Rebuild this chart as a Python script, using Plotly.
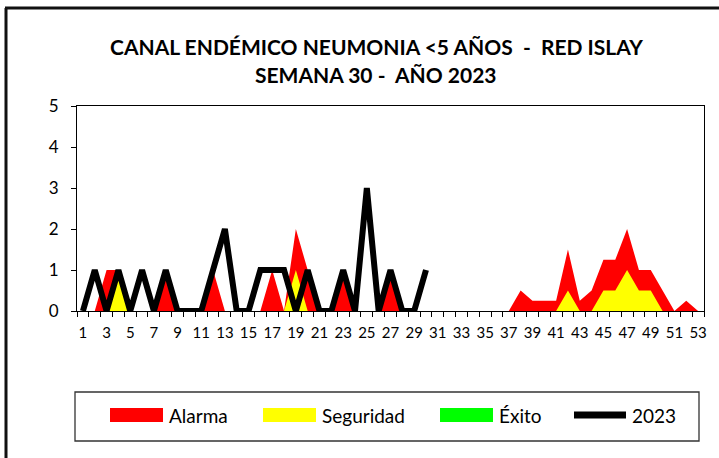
import plotly.graph_objects as go

# semanas epidemiologicas
weeks = list(range(1, 54))
tick_weeks = list(range(1, 54, 2))

alarma = [0, 0, 1, 1, 0, 0, 0, 1, 0, 0,
          0, 1, 0, 0, 0, 0, 1, 0, 2, 1,
          0, 0, 1, 0, 0, 0, 1, 0, 0, 0,
          0, 0, 0, 0, 0, 0, 0, 0.5, 0.25, 0.25,
          0.25, 1.5, 0.25, 0.5, 1.25, 1.25, 2, 1, 1, 0.5,
          0, 0.25, 0]
seguridad = [0, 0, 0, 1, 0, 0, 0, 0, 0, 0,
             0, 0, 0, 0, 0, 0, 0, 0, 1, 0,
             0, 0, 0, 0, 0, 0, 0, 0, 0, 0,
             0, 0, 0, 0, 0, 0, 0, 0, 0, 0,
             0, 0.5, 0, 0, 0.5, 0.5, 1, 0.5, 0.5, 0,
             0, 0, 0]
exito = [0] * 53
casos_2023 = [0, 1, 0, 1, 0, 1, 0, 1, 0, 0,
              0, 1, 2, 0, 0, 1, 1, 1, 0, 1,
              0, 0, 1, 0, 3, 0, 1, 0, 0, 1]

FONT = "Lato"
W, H = 719, 458
L, R, T, B = 77, 15, 106, 147
PW, PH = W - L - R, H - T - B


def px_x(x):
    return (x - L) / PW


def px_y(y):
    return (H - B - y) / PH


series = [("Alarma", alarma, "#FF0000"),
          ("Seguridad", seguridad, "#FFFF00"),
          ("Éxito", exito, "#00FF00")]

fig = go.Figure()

for name, vals, color in series:
    fig.add_trace(go.Scatter(
        x=weeks, y=vals, name=name, mode="lines",
        line=dict(width=0, color=color),
        fill="tozeroy", fillcolor=color, showlegend=False,
    ))

fig.add_trace(go.Scatter(
    x=weeks[:len(casos_2023)], y=casos_2023, name="2023", mode="lines",
    line=dict(color="black", width=6), showlegend=False,
))

# marco exterior
shapes = [
    dict(type="line", xref="paper", yref="paper",
         x0=px_x(6), x1=px_x(6), y0=px_y(470), y1=px_y(8),
         line=dict(color="#111111", width=3)),
    dict(type="line", xref="paper", yref="paper",
         x0=px_x(5), x1=px_x(730), y0=px_y(8), y1=px_y(8),
         line=dict(color="#111111", width=3)),
    # caja de leyenda
    dict(type="rect", xref="paper", yref="paper",
         x0=px_x(75), x1=px_x(699), y0=px_y(441), y1=px_y(392),
         line=dict(color="#333333", width=1.3), fillcolor="white"),
]
annotations = [
    dict(text="<b>CANAL ENDÉMICO NEUMONIA &lt;5 AÑOS  -  RED ISLAY</b>",
         x=px_x(376), y=px_y(47)),
    dict(text="<b>SEMANA 30 -  AÑO 2023</b>", x=px_x(376), y=px_y(74)),
]
for a in annotations:
    a.update(xref="paper", yref="paper", xanchor="center", yanchor="middle",
             showarrow=False, font=dict(family=FONT, size=21, color="black"))

# leyenda manual
legend_items = [("Alarma", "#FF0000", 110, 163),
                ("Seguridad", "#FFFF00", 263, 316),
                ("Éxito", "#00FF00", 440, 493)]
for name, color, x0, x1 in legend_items:
    shapes.append(dict(type="rect", xref="paper", yref="paper",
                       x0=px_x(x0), x1=px_x(x1), y0=px_y(422), y1=px_y(408),
                       line=dict(width=0), fillcolor=color))
    annotations.append(dict(text=name, x=px_x(x1 + 4), y=px_y(415),
                            xref="paper", yref="paper", xanchor="left",
                            yanchor="middle", showarrow=False,
                            font=dict(family=FONT, size=19, color="black")))
shapes.append(dict(type="line", xref="paper", yref="paper",
                   x0=px_x(574), x1=px_x(626), y0=px_y(415), y1=px_y(415),
                   line=dict(color="black", width=7)))
annotations.append(dict(text="2023", x=px_x(630), y=px_y(415),
                        xref="paper", yref="paper", xanchor="left",
                        yanchor="middle", showarrow=False,
                        font=dict(family=FONT, size=19, color="black")))

fig.update_layout(
    width=W, height=H,
    margin=dict(l=L, r=R, t=T, b=B),
    paper_bgcolor="white", plot_bgcolor="white",
    font=dict(family=FONT, size=15, color="black"),
    showlegend=False,
    shapes=shapes,
    annotations=annotations,
)

fig.update_xaxes(
    range=[0.5, 53.5], tickmode="array", tickvals=tick_weeks,
    ticktext=[str(w) for w in tick_weeks], ticks="",
    minor=dict(tickmode="array", tickvals=[w + 0.5 for w in range(0, 54)],
               ticks="outside", ticklen=5, tickcolor="black", showgrid=False),
    showgrid=False, zeroline=False,
    showline=True, linecolor="black", linewidth=1, mirror=True,
    tickfont=dict(size=15), ticklabelstandoff=8,
)
fig.update_yaxes(
    range=[0, 5], dtick=1, ticks="outside", ticklen=5, tickcolor="black",
    showgrid=False, zeroline=False,
    showline=True, linecolor="black", linewidth=1, mirror=True,
    tickfont=dict(size=17), ticklabelstandoff=9,
)

fig.write_html("out.html", config={"displayModeBar": False},
               post_script="document.body.style.margin='0';")
